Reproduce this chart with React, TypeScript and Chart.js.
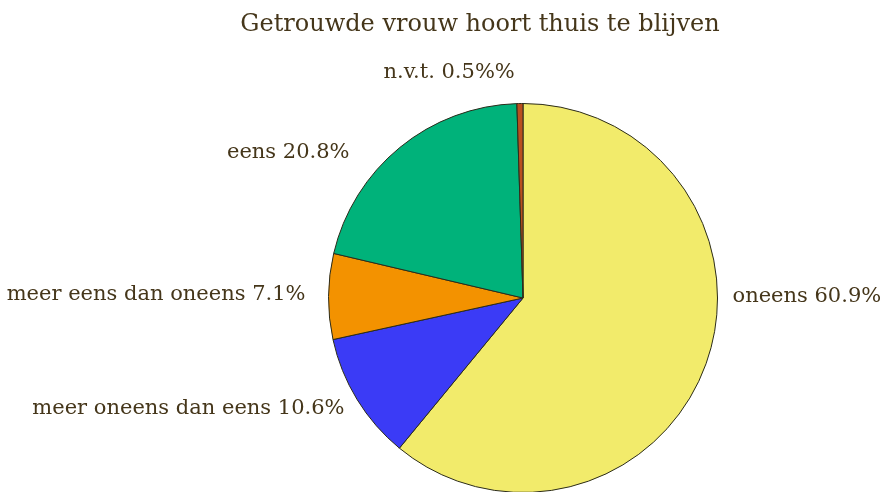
import { useEffect, useRef } from "react";
import { Chart, registerables } from "chart.js";

Chart.register(...registerables);

const TITLE = "Getrouwde vrouw hoort thuis te blijven";
const categories = ["oneens", "meer oneens dan eens", "meer eens dan oneens", "eens", "n.v.t."];
const values = [60.9, 10.6, 7.1, 20.8, 0.5];
const labelTexts = [
  "oneens 60.9%",
  "meer oneens dan eens 10.6%",
  "meer eens dan oneens 7.1%",
  "eens 20.8%",
  "n.v.t. 0.5%%",
];
const sliceColors = ["#F2EB6B", "#3B3BF6", "#F39200", "#00B27A", "#B9501F"];

const TEXT_COLOR = "#45361a";
const FONT = "'DejaVu Serif', serif";

// small text nudges (dx, dy) relative to the arc-derived anchor
const labelNudges: [number, number][] = [
  [17, -70],
  [-4, 4],
  [-13, -2],
  [-44, 13],
  [-5, -21],
];

const labelPlugin = {
  id: "pieLabels",
  afterDatasetsDraw(chart: any) {
    const ctx = chart.ctx as CanvasRenderingContext2D;
    const meta = chart.getDatasetMeta(0);
    ctx.save();
    ctx.fillStyle = TEXT_COLOR;
    ctx.textBaseline = "middle";
    ctx.font = `21px ${FONT}`;
    meta.data.forEach((arc: any, i: number) => {
      const { x, y, startAngle, endAngle, outerRadius } = arc.getProps(
        ["x", "y", "startAngle", "endAngle", "outerRadius"],
        true
      );
      const mid = (startAngle + endAngle) / 2;
      const r = outerRadius + 10;
      const c = Math.cos(mid);
      const px = x + c * r + labelNudges[i][0];
      const py = y + Math.sin(mid) * r + labelNudges[i][1];
      ctx.textAlign = c >= 0 ? "left" : "right";
      ctx.fillText(labelTexts[i], px, py);
    });
    // title
    ctx.font = `24px ${FONT}`;
    ctx.textAlign = "center";
    ctx.fillText(TITLE, 480, 25);
    ctx.restore();
  },
};

export default function App() {
  const ref = useRef<HTMLCanvasElement | null>(null);
  useEffect(() => {
    document.body.style.margin = "0";
    const canvas = ref.current!;
    const chart = new Chart(canvas, {
      type: "pie",
      data: {
        labels: categories,
        datasets: [
          {
            data: values,
            backgroundColor: sliceColors,
            borderColor: "#2b2b1a",
            borderWidth: 1,
          },
        ],
      },
      options: {
        animation: false,
        responsive: false,
        maintainAspectRatio: false,
        layout: { padding: { top: 103, bottom: 7, left: 328, right: 166 } },
        plugins: {
          legend: { display: false },
          title: { display: false },
          tooltip: { enabled: false },
        },
      },
      plugins: [labelPlugin],
    });
    return () => chart.destroy();
  }, []);
  return (
    <div style={{ width: 884, height: 492, overflow: "hidden", background: "#fff" }}>
      <canvas ref={ref} width={884} height={500} style={{ display: "block" }} />
    </div>
  );
}
